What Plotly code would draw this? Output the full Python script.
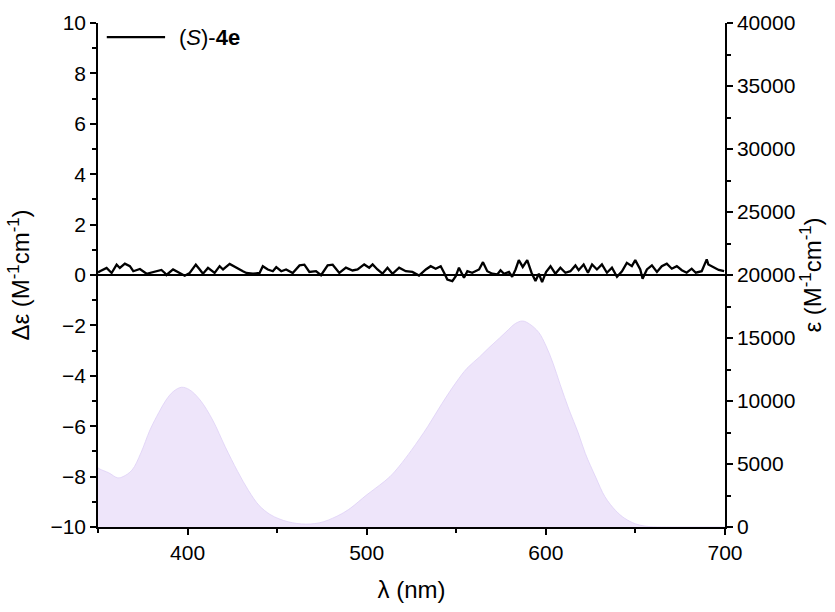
import plotly.graph_objects as go

# Absorption spectrum (epsilon, M^-1 cm^-1)
abs_nm = [350, 351, 356, 361, 364, 369, 374, 379, 384, 388, 392, 396.6, 401, 407, 414, 421,
          428, 434, 440, 446, 451, 456, 461, 466, 471, 476, 481, 486, 491, 500, 507,
          513, 518, 525, 534, 542, 550, 556, 563, 568, 574, 579, 583, 587, 591, 596, 600,
          604, 608, 613, 618, 622, 628, 633, 639, 644, 650, 655, 660, 670, 685, 700]
abs_eps = [4700, 4600, 4300, 3900, 4000, 4520, 5900, 7700, 9100, 10080, 10750, 11090, 10900, 10080, 8490, 6370,
           4400, 2900, 1700, 1000, 650, 420, 280, 230, 270, 420, 700, 1050, 1500, 2550, 3300,
           4000, 4800, 6100, 7960, 9800, 11500, 12600, 13500, 14200, 14980, 15650, 16150, 16350, 16100, 15450, 14400,
           13000, 11300, 9290, 7500, 5850, 3900, 2400, 1300, 690, 250, 80, 20, 0, 0, 0]

# CD spectrum (delta epsilon, M^-1 cm^-1)
cd_nm = [350, 351.1, 354.8, 357.6, 360.4, 362.2, 365.0, 367.8, 369.7, 373.4, 377.1, 380.8, 385.4, 387.3,
         388.2, 391.9, 394.7, 398.4, 401.2, 404.6, 406.8, 408.6, 411.4, 415.1, 417.9, 419.8, 423.5,
         427.2, 430.9, 432.8, 436.5, 440.2, 442.0, 444.8, 447.6, 449.5, 452.3, 455.0, 458.7, 462.5,
         465.2, 468.0, 471.7, 474.5, 478.2, 481.0, 484.7,
         488.4, 492.1, 494.9, 498.6, 501.4, 503.3, 506.0, 508.8, 511.6, 514.4, 518.1, 521.8, 525.5,
         529.2, 533.0, 535.7, 538.5, 541.3, 543.2, 545.0, 547.8, 549.7, 551.5, 554.3, 556.2, 558.9,
         562.7, 564.9, 567.3, 570.1, 572.9, 574.7, 576.6, 579.4, 581.2, 583.1, 584.9, 587.1, 589.6,
         592.0, 594.2, 596.1, 597.9, 600.1, 602.6, 605.3, 608.1, 610.9, 613.7, 616.5, 618.3, 621.1,
         623.5, 625.8, 628.5, 631.3, 634.1, 636.9, 639.7, 642.5, 645.2, 648.0, 649.9, 652.7, 654.0,
         656.4, 659.2, 662.0, 664.7, 667.5, 670.3, 673.1, 675.9, 678.6, 681.4, 683.7, 687.0, 689.8,
         690.7, 693.5, 696.5, 699.5]
cd_de = [0.10, 0.15, 0.28, 0.08, 0.41, 0.28, 0.45, 0.35, 0.15, 0.24, 0.05, 0.12, 0.20, 0.08,
         0.00, 0.22, 0.12, -0.03, 0.08, 0.41, 0.22, 0.05, 0.28, 0.08, 0.35, 0.22, 0.44,
         0.28, 0.15, 0.08, 0.05, 0.08, 0.35, 0.22, 0.15, 0.31, 0.15, 0.22, 0.08, 0.38,
         0.41, 0.12, 0.15, -0.01, 0.38, 0.41, 0.08,
         0.29, 0.18, 0.22, 0.42, 0.29, 0.42, 0.22, 0.05, 0.29, 0.05, 0.29, 0.15, 0.12,
         -0.02, 0.22, 0.35, 0.25, 0.35, 0.09, -0.18, -0.24, -0.05, 0.29, -0.11, 0.15, 0.09,
         0.22, 0.51, 0.15, 0.05, 0.02, 0.19, 0.05, 0.12, -0.07, 0.22, 0.59, 0.32, 0.59,
         0.09, -0.24, 0.05, -0.28, 0.12, 0.35, 0.05, 0.29, 0.09, 0.15, 0.38, 0.19, 0.42,
         0.09, 0.42, 0.22, 0.42, 0.09, 0.29, -0.07, 0.15, 0.48, 0.35, 0.59, 0.22, -0.15,
         0.22, 0.38, 0.12, 0.35, 0.45, 0.25, 0.35, 0.19, 0.09, 0.25, 0.09, 0.15, 0.62,
         0.42, 0.30, 0.20, 0.15]

x_ticks = [400, 500, 600, 700]
left_ticks = [-10, -8, -6, -4, -2, 0, 2, 4, 6, 8, 10]
right_ticks = [0, 5000, 10000, 15000, 20000, 25000, 30000, 35000, 40000]
right_tick_text = [str(v) for v in right_ticks]
legend_label = "(<i>S</i>)-<b>4e</b>"

FONT = "Liberation Sans, Arial, sans-serif"
TICK_SIZE = 21
TITLE_SIZE = 24

fig = go.Figure()

fig.add_trace(go.Scatter(
    x=abs_nm, y=abs_eps, yaxis="y2", mode="lines", fill="tozeroy",
    line=dict(color="rgba(222,208,246,1)", width=0.8, shape="spline", smoothing=1.0),
    fillcolor="rgb(238,229,250)", showlegend=False, hoverinfo="skip"))

fig.add_trace(go.Scatter(
    x=cd_nm, y=cd_de, mode="lines", name=legend_label, showlegend=False,
    line=dict(color="black", width=2.3)))

axis_common = dict(showgrid=False, showline=True, linecolor="black", linewidth=1.5,
                   ticks="outside", tickcolor="black", tickwidth=1.5, ticklen=6,
                   tickfont=dict(family=FONT, size=TICK_SIZE, color="black"))

fig.update_layout(
    width=835, height=612,
    margin=dict(l=98, r=110, t=23, b=85),
    paper_bgcolor="white", plot_bgcolor="white",
    font=dict(family=FONT, size=TICK_SIZE, color="black"),
    xaxis=dict(range=[350, 700], tickvals=x_ticks, **axis_common,
               minor=dict(ticks="outside", tickvals=[350, 450, 550, 650], ticklen=4,
                          tickcolor="black", tickwidth=1.5),
               title=dict(text="λ (nm)", font=dict(family=FONT, size=TITLE_SIZE), standoff=18)),
    yaxis=dict(range=[-10, 10], tickvals=left_ticks, **axis_common,
               zeroline=True, zerolinecolor="black", zerolinewidth=1.5,
               minor=dict(ticks="outside", dtick=1, ticklen=4, tickcolor="black", tickwidth=1.5),
               title=dict(text="Δε (M<sup>-1</sup>cm<sup>-1</sup>)", font=dict(family=FONT, size=TITLE_SIZE), standoff=14)),
    yaxis2=dict(range=[0, 40000], tickvals=right_ticks, ticktext=right_tick_text,
                overlaying="y", side="right", **axis_common, zeroline=False,
                minor=dict(ticks="outside", dtick=2500, ticklen=4, tickcolor="black", tickwidth=1.5),
                title=dict(text="ε (M<sup>-1</sup>cm<sup>-1</sup>)", font=dict(family=FONT, size=TITLE_SIZE), standoff=10)),
)

# legend key drawn as in the reference (long line sample + label)
fig.add_shape(type="line", xref="paper", yref="paper", x0=0.014, x1=0.107, y0=0.972, y1=0.972,
              line=dict(color="black", width=2.3))
fig.add_annotation(text=legend_label, xref="paper", yref="paper", x=0.126, y=0.972,
                   xanchor="left", yanchor="middle", showarrow=False,
                   font=dict(family=FONT, size=22, color="black"))

fig.write_html("out.html")
